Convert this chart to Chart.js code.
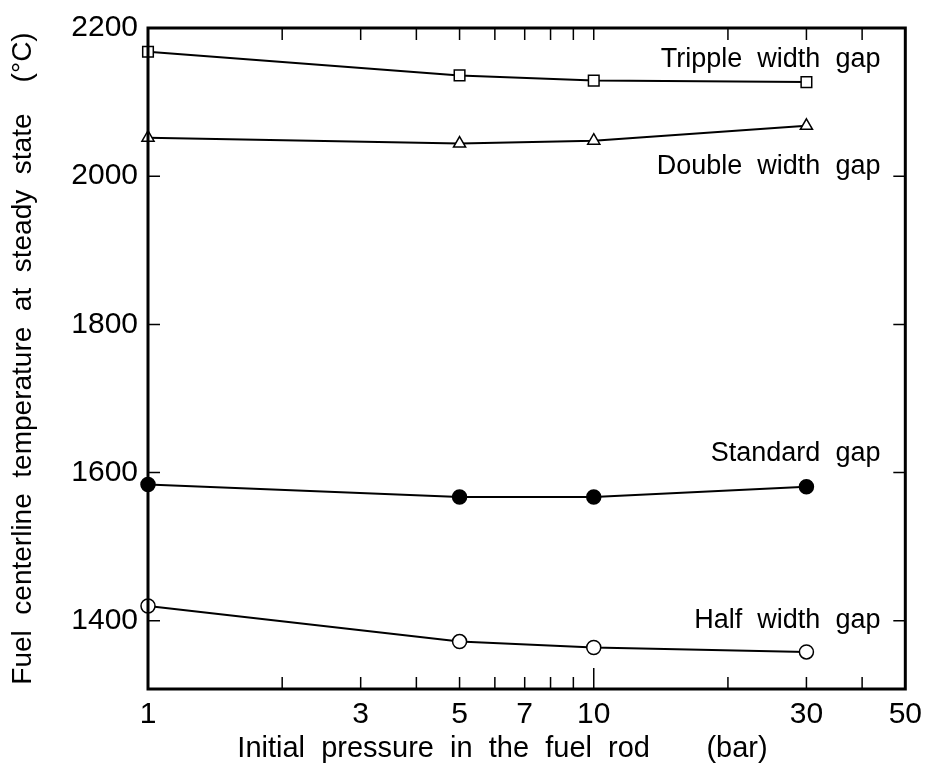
<!DOCTYPE html>
<html>
<head>
<meta charset="utf-8">
<script src="https://cdn.jsdelivr.net/npm/chart.js@4.4.1/dist/chart.umd.min.js"></script>
<style>
  html, body { margin: 0; padding: 0; background: #fff; }
  #wrap { width: 930px; height: 776px; }
</style>
</head>
<body>
<div id="wrap"><canvas id="gapChart" width="930" height="776"></canvas></div>
<script>
// values
const pressures = [1, 5, 10, 30];
const trippleGap = [2168, 2136, 2129, 2127];
const doubleGap = [2052, 2044, 2048, 2068];
const standardGap = [1584, 1567, 1567, 1581];
const halfGap = [1420, 1372, 1364, 1358];
const seriesNames = ['Tripple  width  gap', 'Double  width  gap', 'Standard  gap', 'Half  width  gap'];

const xTicks = [1, 2, 3, 4, 5, 6, 7, 8, 9, 10, 20, 30, 40, 50];
const xLabeled = [1, 3, 5, 7, 10, 30, 50];
const yTicks = [1400, 1600, 1800, 2000, 2200];

const FONT = "'Liberation Sans', Arial, sans-serif";

function pts(vals) {
    return pressures.map((p, i) => ({ x: p, y: vals[i] }));
}

function series(vals, style, fill) {
    return {
        data: pts(vals),
        borderColor: '#000',
        borderWidth: 2,
        pointStyle: style,
        pointRadius: style === 'rect' ? 7.5 : 7,
        pointBackgroundColor: fill,
        pointBorderColor: '#000',
        pointBorderWidth: 1.5,
        tension: 0,
        clip: false
    };
}

// frame, inward tick marks and the curve labels
const framePlugin = {
    id: 'frame',
    afterDatasetsDraw(chart) {
        const { ctx, chartArea: a, scales } = chart;
        const xs = scales.x, ys = scales.y;
        ctx.save();
        ctx.strokeStyle = '#000';
        ctx.lineWidth = 1.5;
        ctx.beginPath();
        xTicks.forEach(v => {
            if (v === 1 || v === 50) return;
            const px = xs.getPixelForValue(v);
            const len = v === 10 ? 21 : 12;
            ctx.moveTo(px, a.bottom); ctx.lineTo(px, a.bottom - len);
            ctx.moveTo(px, a.top); ctx.lineTo(px, a.top + 12);
        });
        yTicks.forEach(v => {
            if (v === 2200) return;
            const py = ys.getPixelForValue(v);
            ctx.moveTo(a.left, py); ctx.lineTo(a.left + 12, py);
            ctx.moveTo(a.right, py); ctx.lineTo(a.right - 12, py);
        });
        ctx.stroke();

        ctx.lineWidth = 3;
        ctx.strokeRect(a.left, a.top, a.right - a.left, a.bottom - a.top);

        const offsets = [-23, 41, -33, -31];
        const lastVals = [trippleGap, doubleGap, standardGap, halfGap].map(s => s[s.length - 1]);
        ctx.fillStyle = '#000';
        ctx.font = '27px ' + FONT;
        ctx.textAlign = 'right';
        ctx.textBaseline = 'middle';
        const lx = xs.getPixelForValue(pressures[pressures.length - 1]) + 74;
        seriesNames.forEach((name, i) => {
            ctx.fillText(name, lx, ys.getPixelForValue(lastVals[i]) + offsets[i]);
        });
        ctx.restore();
    }
};

const ctx = document.getElementById('gapChart').getContext('2d');
const gapChart = new Chart(ctx, {
    type: 'line',
    data: {
        datasets: [
            series(trippleGap, 'rect', '#fff'),
            series(doubleGap, 'triangle', '#fff'),
            series(standardGap, 'circle', '#000'),
            series(halfGap, 'circle', '#fff')
        ]
    },
    options: {
        responsive: false,
        animation: false,
        devicePixelRatio: 1,
        layout: { padding: { left: 0, top: 20, right: 24, bottom: 0 } },
        plugins: {
            legend: { display: false },
            tooltip: { enabled: false }
        },
        scales: {
            x: {
                type: 'logarithmic',
                min: 1,
                max: 50,
                afterBuildTicks: s => { s.ticks = xTicks.map(v => ({ value: v })); },
                afterFit: s => { s.height = 87; },
                grid: { display: false, drawTicks: false },
                border: { display: false },
                ticks: {
                    autoSkip: false,
                    maxRotation: 0,
                    padding: 8,
                    color: '#000',
                    font: { family: FONT, size: 30 },
                    callback: v => xLabeled.includes(v) ? String(v) : ''
                },
                title: {
                    display: true,
                    // trailing spaces pull the centre left, as in the original
                    text: 'Initial  pressure  in  the  fuel  rod       (bar)      ',
                    color: '#000',
                    font: { family: FONT, size: 29 },
                    padding: { top: 0, bottom: 10 }
                }
            },
            y: {
                min: 1308,
                max: 2200,
                afterBuildTicks: s => { s.ticks = yTicks.map(v => ({ value: v })); },
                afterFit: s => { s.width = 148; },
                grid: { display: false, drawTicks: false },
                border: { display: false },
                ticks: {
                    padding: 10,
                    color: '#000',
                    font: { family: FONT, size: 30 },
                    callback: v => String(v)
                },
                title: {
                    display: true,
                    text: 'Fuel  centerline  temperature  at  steady  state    (°C)',
                    color: '#000',
                    font: { family: FONT, size: 28 },
                    padding: { top: 6, bottom: 0 }
                }
            }
        }
    },
    plugins: [framePlugin]
});
</script>
</body>
</html>
